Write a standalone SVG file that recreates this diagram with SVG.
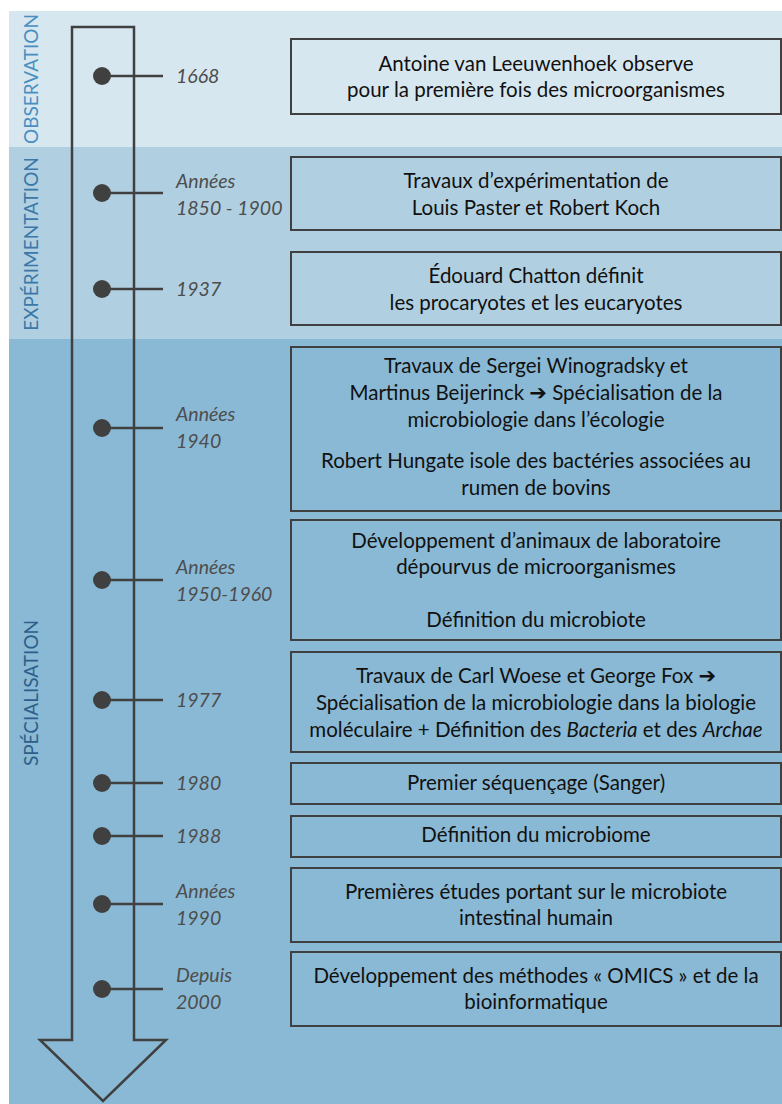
<svg xmlns="http://www.w3.org/2000/svg" width="782" height="1104" viewBox="0 0 782 1104">
<style>
.box{stroke:#404040;stroke-width:2;fill:none}
.t{font-family:Lato,"Liberation Sans",sans-serif;font-size:20.5px;fill:#111;text-anchor:middle}
.d{font-family:Lato,"Liberation Sans",sans-serif;font-size:19.5px;font-style:italic;fill:#4d4d4d}
.band{font-family:Lato,"Liberation Sans",sans-serif;font-size:19px;text-anchor:middle}
.arw{font-family:"DejaVu Sans",sans-serif;font-weight:bold;font-size:21px}
.tick{stroke:#404040;stroke-width:2.5}
.dot{fill:#404040}
</style>
<rect width="782" height="1104" fill="#ffffff"/>
<g id="bands">
<rect x="9" y="11" width="773" height="136" fill="#d7e7f0"/>
<rect x="9" y="147" width="773" height="192" fill="#b0d0e2"/>
<rect x="9" y="339" width="773" height="765" fill="#8ab9d5"/>
<text class="band" transform="translate(38,79) rotate(-90)" fill="#4a8fc0">OBSERVATION</text>
<text class="band" transform="translate(38,244) rotate(-90)" fill="#3b78a8">EXPÉRIMENTATION</text>
<text class="band" transform="translate(38,693) rotate(-90)" fill="#2d5f8a">SPÉCIALISATION</text>
</g>
<g id="timeline-arrow">
<path d="M72,27 H134 V1040 H166 L103,1101 L40,1040 H72 Z" fill="none" stroke="#404040" stroke-width="2.5" stroke-linejoin="miter"/>
</g>
<g id="connectors">
<line class="tick" x1="102" y1="76" x2="163" y2="76"/><circle class="dot" cx="102" cy="76" r="9"/>
<line class="tick" x1="102" y1="193" x2="163" y2="193"/><circle class="dot" cx="102" cy="193" r="9"/>
<line class="tick" x1="102" y1="289" x2="163" y2="289"/><circle class="dot" cx="102" cy="289" r="9"/>
<line class="tick" x1="102" y1="428" x2="163" y2="428"/><circle class="dot" cx="102" cy="428" r="9"/>
<line class="tick" x1="102" y1="580" x2="163" y2="580"/><circle class="dot" cx="102" cy="580" r="9"/>
<line class="tick" x1="102" y1="700" x2="163" y2="700"/><circle class="dot" cx="102" cy="700" r="9"/>
<line class="tick" x1="102" y1="783" x2="163" y2="783"/><circle class="dot" cx="102" cy="783" r="9"/>
<line class="tick" x1="102" y1="836" x2="163" y2="836"/><circle class="dot" cx="102" cy="836" r="9"/>
<line class="tick" x1="102" y1="904" x2="163" y2="904"/><circle class="dot" cx="102" cy="904" r="9"/>
<line class="tick" x1="102" y1="989" x2="163" y2="989"/><circle class="dot" cx="102" cy="989" r="9"/>
</g>
<g id="dates">
<text class="d" x="176" y="83">1668</text>
<text class="d" x="176" y="188">Années</text><text class="d" x="176" y="215">1850 - 1900</text>
<text class="d" x="176" y="296">1937</text>
<text class="d" x="176" y="421">Années</text><text class="d" x="176" y="448">1940</text>
<text class="d" x="176" y="574">Années</text><text class="d" x="176" y="601">1950-1960</text>
<text class="d" x="176" y="707">1977</text>
<text class="d" x="176" y="790">1980</text>
<text class="d" x="176" y="843">1988</text>
<text class="d" x="176" y="898">Années</text><text class="d" x="176" y="925">1990</text>
<text class="d" x="176" y="982">Depuis</text><text class="d" x="176" y="1009">2000</text>
</g>
<g id="e1668"><rect class="box" x="291" y="39" width="490" height="75"/>
<text class="t" x="536" y="71">Antoine van Leeuwenhoek observe</text>
<text class="t" x="536" y="97">pour la première fois des microorganismes</text></g>
<g id="e1850"><rect class="box" x="291" y="157" width="490" height="73"/>
<text class="t" x="536" y="188">Travaux d’expérimentation de</text>
<text class="t" x="536" y="215">Louis Paster et Robert Koch</text></g>
<g id="e1937"><rect class="box" x="291" y="252" width="490" height="73"/>
<text class="t" x="536" y="283">Édouard Chatton définit</text>
<text class="t" x="536" y="310">les procaryotes et les eucaryotes</text></g>
<g id="e1940"><rect class="box" x="291" y="347" width="490" height="164"/>
<text class="t" x="536" y="373">Travaux de Sergei Winogradsky et</text>
<text class="t" x="536" y="400">Martinus Beijerinck <tspan class="arw">➔</tspan> Spécialisation de la</text>
<text class="t" x="536" y="427">microbiologie dans l’écologie</text>
<text class="t" x="536" y="468">Robert Hungate isole des bactéries associées au</text>
<text class="t" x="536" y="495">rumen de bovins</text></g>
<g id="e1950"><rect class="box" x="291" y="520" width="490" height="120"/>
<text class="t" x="536" y="548">Développement d’animaux de laboratoire</text>
<text class="t" x="536" y="574">dépourvus de microorganismes</text>
<text class="t" x="536" y="627">Définition du microbiote</text></g>
<g id="e1977"><rect class="box" x="291" y="652" width="490" height="100"/>
<text class="t" x="536" y="683">Travaux de Carl Woese et George Fox <tspan class="arw">➔</tspan></text>
<text class="t" x="536" y="710">Spécialisation de la microbiologie dans la biologie</text>
<text class="t" x="536" y="737">moléculaire + Définition des <tspan font-style="italic">Bacteria</tspan> et des <tspan font-style="italic">Archae</tspan></text></g>
<g id="e1980"><rect class="box" x="291" y="763" width="490" height="41"/>
<text class="t" x="536" y="790">Premier séquençage (Sanger)</text></g>
<g id="e1988"><rect class="box" x="291" y="816" width="490" height="41"/>
<text class="t" x="536" y="842">Définition du microbiome</text></g>
<g id="e1990"><rect class="box" x="291" y="868" width="490" height="74"/>
<text class="t" x="536" y="899">Premières études portant sur le microbiote</text>
<text class="t" x="536" y="925">intestinal humain</text></g>
<g id="e2000"><rect class="box" x="291" y="952" width="490" height="74"/>
<text class="t" x="536" y="983">Développement des méthodes « OMICS » et de la</text>
<text class="t" x="536" y="1009">bioinformatique</text></g>
</svg>
